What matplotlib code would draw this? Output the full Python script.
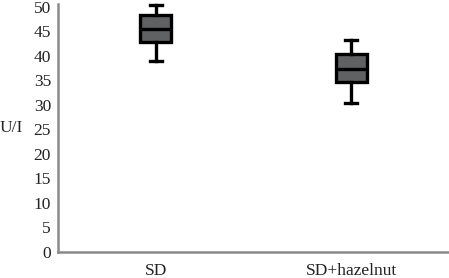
import matplotlib.pyplot as plt

# data
groups = ['SD', 'SD+hazelnut']
whisker_low = [39.0, 30.3]
q1 = [42.9, 34.7]
median = [45.5, 37.3]
q3 = [48.3, 40.3]
whisker_high = [50.4, 43.3]
y_ticks = [0, 5, 10, 15, 20, 25, 30, 35, 40, 45, 50]

plt.rcParams['font.family'] = 'Liberation Serif'
fs = 12.5

fig = plt.figure(figsize=(4.49, 2.78), dpi=100)
ax = fig.add_axes([58 / 449, 26 / 278, 1 - 58 / 449, (252 - 4) / 278])

stats = []
for i, g in enumerate(groups):
    stats.append(dict(label=g, whislo=whisker_low[i], q1=q1[i], med=median[i],
                      q3=q3[i], whishi=whisker_high[i], fliers=[]))

bp = ax.bxp(stats, positions=[1, 2], widths=0.16, patch_artist=True, showfliers=False,
            boxprops=dict(facecolor='#5f6163', edgecolor='black', linewidth=2.4),
            medianprops=dict(color='black', linewidth=2.4),
            whiskerprops=dict(color='black', linewidth=2.4),
            capprops=dict(color='black', linewidth=2.4),
            capwidths=0.06, manage_ticks=False)
for k in ['whiskers', 'caps', 'boxes', 'medians']:
    for a in bp[k]:
        a.set_clip_on(False)

ax.set_xlim(0.5, 2.5)
ax.set_ylim(0, 50.6)
ax.set_yticks(y_ticks)
ax.set_xticks([1, 2])
ax.set_xticklabels(groups)
ax.tick_params(axis='both', length=0, labelsize=fs, colors='#222222')
ax.tick_params(axis='y', pad=5)
ax.tick_params(axis='x', pad=8)

for s in ['top', 'right']:
    ax.spines[s].set_visible(False)
for s in ['left', 'bottom']:
    ax.spines[s].set_color('#8a8a8a')
    ax.spines[s].set_linewidth(1.8)

fig.text(0.0, (278 - 128) / 278, 'U/I', fontsize=fs, color='#222222', va='center', ha='left')

fig.savefig('out.png', dpi=100)
